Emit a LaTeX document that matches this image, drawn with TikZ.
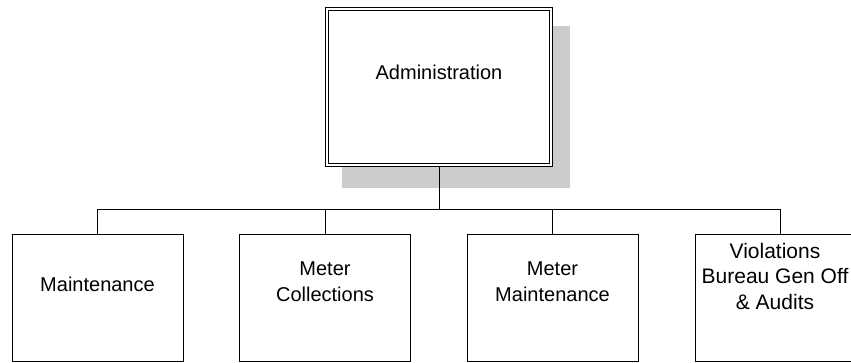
\documentclass[tikz,border=0pt]{standalone}
\usepackage{fontspec}
\setmainfont{Liberation Sans}
\usetikzlibrary{backgrounds,calc}
\definecolor{shadowgray}{HTML}{CCCCCC}
\tikzset{
  wire/.style={line width=1pt, draw=black},
  unitbox/.style={draw=black, line width=1pt, minimum width=171pt, minimum height=127pt, inner sep=0pt, outer sep=0pt},
  headbox/.style={draw=black, fill=white, line width=1pt, double=white, double distance=2pt,
    minimum width=224pt, minimum height=156pt, inner sep=0pt, outer sep=2pt},
  lbl/.style={font=\fontsize{20}{25.5}\selectfont, align=center, inner sep=0pt, anchor=north},
}
\begin{document}
\begin{tikzpicture}[x=1pt,y=-1pt]
\useasboundingbox (0,0) rectangle (851,362);
% head box
\node[headbox] (admin) at (439,87) {};
\begin{scope}[on background layer]
  \fill[shadowgray] ($(admin.north west)+(17,19)$) rectangle ($(admin.south east)+(17,21)$);
\end{scope}
\node[lbl] (tadmin) at (439,65) {Administration};
% unit boxes
\node[unitbox] (b1) at (97.5,297.5) {};
\node[unitbox] (b2) at (325,297.5) {};
\node[unitbox] (b3) at (552.5,297.5) {};
\node[unitbox] (b4) at (780.5,297.5) {};
\node[lbl] (t1) at (97.5,276.5) {Maintenance};
\node[lbl] (t2) at (325,262) {Meter\\Collections};
\node[lbl] (t3) at (552.5,262) {Meter\\Maintenance};
\node[lbl,font=\fontsize{21}{25.5}\selectfont] (t4) at (775,243) {Violations\\Bureau Gen Off\\\& Audits};
% connectors
\coordinate (bus) at (439,209.5);
\foreach \b in {b1,b2,b3,b4}
  \draw[wire] (admin.south) -- (admin.south |- bus) -| (\b.north);
\end{tikzpicture}
\end{document}
